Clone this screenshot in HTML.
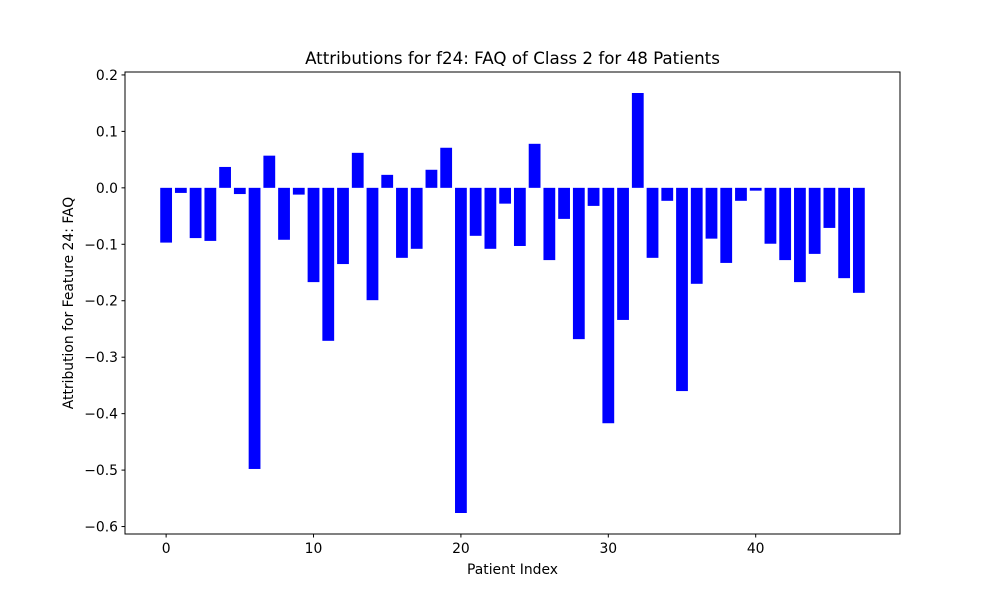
<!DOCTYPE html>
<html><head><meta charset="utf-8"><style>
body{margin:0;background:#fff;font-family:"Liberation Sans","DejaVu Sans",sans-serif;}
svg text{font-family:"DejaVu Sans","Liberation Sans",sans-serif;}
</style></head><body>
<svg id="chart" width="1000" height="600" xmlns="http://www.w3.org/2000/svg"></svg>
<script>
const values = [-0.097,-0.009,-0.089,-0.094,0.037,-0.011,-0.498,0.057,-0.092,-0.012,-0.167,-0.271,-0.135,0.062,-0.199,0.023,-0.124,-0.108,0.032,0.071,-0.576,-0.085,-0.108,-0.028,-0.103,0.078,-0.128,-0.055,-0.268,-0.032,-0.417,-0.234,0.168,-0.124,-0.023,-0.36,-0.17,-0.09,-0.133,-0.023,-0.005,-0.099,-0.128,-0.167,-0.117,-0.071,-0.16,-0.186];
const xTicks = [0,10,20,30,40];
const yTicks = [0.2,0.1,0.0,-0.1,-0.2,-0.3,-0.4,-0.5,-0.6];

const svg = document.getElementById('chart');
const NS = 'http://www.w3.org/2000/svg';
const L=125,R=900,T=72,B=534;
const n = values.length;
const xmin=-0.4-(n-1+0.8)*0.05, xmax=n-1+0.4+(n-1+0.8)*0.05;
const vmax=Math.max(0,...values), vmin=Math.min(0,...values);
const ymin=vmin-(vmax-vmin)*0.05, ymax=vmax+(vmax-vmin)*0.05;
const xs = v => L+(v-xmin)/(xmax-xmin)*(R-L);
const ys = v => B-(v-ymin)/(ymax-ymin)*(B-T);
function el(tag, attrs, text){const e=document.createElementNS(NS,tag);for(const k in attrs)e.setAttribute(k,attrs[k]);if(text!==undefined)e.textContent=text;svg.appendChild(e);return e;}

values.forEach((v,i)=>{
  const y0=ys(Math.max(v,0)), y1=ys(Math.min(v,0));
  const r=el('rect',{x:xs(i-0.4),y:y0,width:xs(i+0.4)-xs(i-0.4),height:y1-y0,fill:'#0000ff'});
  
  
});
const frame=el('rect',{x:L,y:T,width:R-L,height:B-T,fill:'none',stroke:'#000','stroke-width':1});


xTicks.forEach(t=>{
  const x=xs(t);
  el('line',{x1:x,x2:x,y1:B,y2:B+3.5,stroke:'#000'});
  const lb=el('text',{x:x,y:B+19,'font-size':13.9,'text-anchor':'middle'},String(t));
  
  
});
yTicks.forEach(t=>{
  const y=ys(t);
  el('line',{x1:L-3.5,x2:L,y1:y,y2:y,stroke:'#000'});
  const lb=el('text',{x:L-7,y:y+5,'font-size':13.9,'text-anchor':'end'},(t<0?'\u2212':'')+Math.abs(t).toFixed(1));
  
  
});
const title=el('text',{x:(L+R)/2,y:64,'font-size':16.7,'text-anchor':'middle'},'Attributions for f24: FAQ of Class 2 for 48 Patients');


const xt=el('text',{x:(L+R)/2,y:574,'font-size':13.9,'text-anchor':'middle'},'Patient Index');


const yt=el('text',{x:73,y:(T+B)/2,'font-size':13.9,'text-anchor':'middle',transform:'rotate(-90 73 '+((T+B)/2)+')'},'Attribution for Feature 24: FAQ');


</script>
</body></html>
